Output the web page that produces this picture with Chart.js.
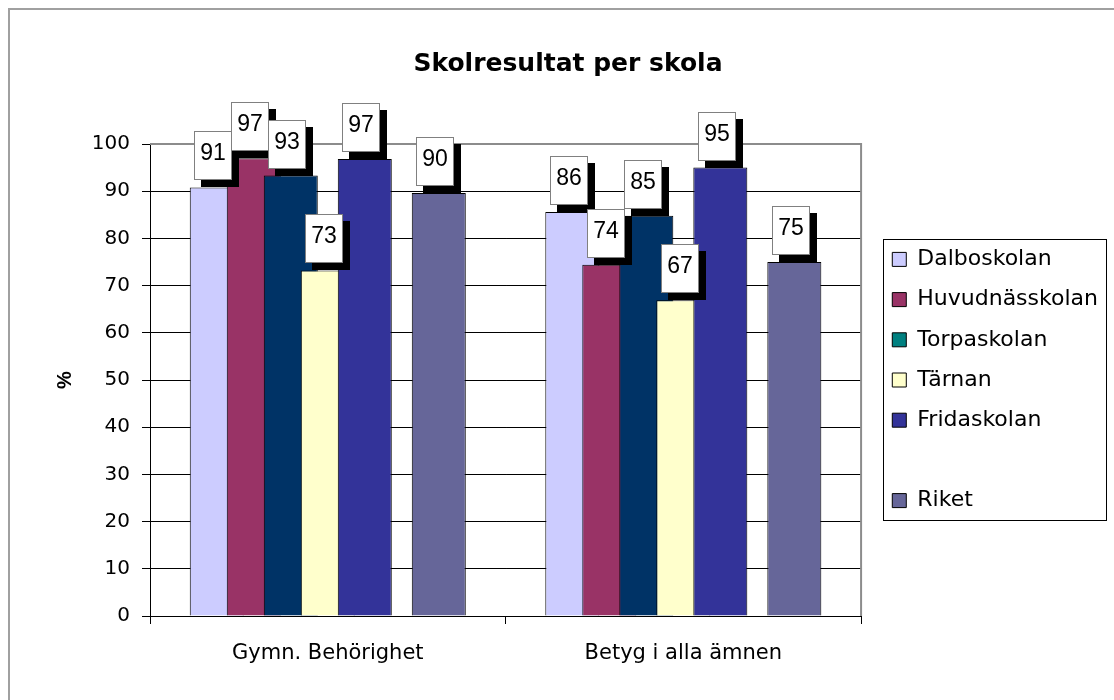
<!DOCTYPE html>
<html>
<head>
<meta charset="utf-8">
<script src="https://cdn.jsdelivr.net/npm/chart.js@4.4.1/dist/chart.umd.min.js"></script>
<style>
  html, body { margin: 0; padding: 0; background: #fff; }
  #wrap { width: 1114px; height: 700px; }
</style>
</head>
<body>
<div id="wrap"><canvas id="chart" width="1114" height="700"></canvas></div>
<script>
// chart data
const categories = ['Gymn. Behörighet', 'Betyg i alla ämnen'];
const schools = ['Dalboskolan', 'Huvudnässkolan', 'Torpaskolan', 'Tärnan', 'Fridaskolan', '', 'Riket'];
const dalboskolan = [90.8, 85.6];
const huvudnasskolan = [97.0, 74.4];
const torpaskolan = [93.3, 84.8];
const tarnan = [73.2, 66.9];
const fridaskolan = [96.8, 95.0];
const blank = [null, null];
const riket = [89.6, 75.0];
const yMin = 0;
const yMax = 100;
const yStep = 10;

//colours
const barColors = ['#ccccff', '#993366', '#003366', '#ffffcc', '#333399', 'rgba(0,0,0,0)', '#666699'];
const legendColors = ['#ccccff', '#993366', '#008080', '#ffffcc', '#333399', 'rgba(0,0,0,0)', '#666699'];

const seriesValues = [dalboskolan, huvudnasskolan, torpaskolan, tarnan, fridaskolan, blank, riket];

const datasets = schools.map((name, i) => ({
  label: name,
  data: seriesValues[i],
  backgroundColor: barColors[i],
  borderColor: name ? '#000000' : 'rgba(0,0,0,0)',
  borderWidth: name ? 1 : 0,
}));

const legendFont = 22;
const legendPad = 18.2;

//frame round the whole picture
const framePlugin = {
  id: 'frame',
  beforeDraw(chart) {
    const { ctx, width, height } = chart;
    ctx.save();
    ctx.fillStyle = '#ffffff';
    ctx.fillRect(0, 0, width, height);
    ctx.strokeStyle = '#a0a0a0';
    ctx.lineWidth = 2;
    ctx.beginPath();
    ctx.moveTo(9, height);
    ctx.lineTo(9, 9);
    ctx.lineTo(width, 9);
    ctx.stroke();
    ctx.restore();
  },
  afterLayout(chart) {
    // move legend a bit right and centre it on the plot, like the original
    const lg = chart.legend;
    const a = chart.chartArea;
    const dy = (a.top + a.bottom) / 2 - (lg.top + lg.bottom) / 2;
    lg.left += 13;
    lg.right += 13;
    lg.top += dy;
    lg.bottom += dy;
  },
  afterDraw(chart) {
    // border round the legend
    const lg = chart.legend;
    const p = legendPad;
    const itemH = legendFont;
    const n = lg.legendItems.length;
    const colH = n * (itemH + p);
    const firstTop = (lg.top + p + lg.bottom - colH) / 2;
    const firstMid = firstTop + itemH / 2;
    const lastMid = firstMid + (n - 1) * (itemH + p);
    const left = Math.round(lg.left + p - 9);
    const top = Math.round(firstMid - 20);
    const bottom = Math.round(lastMid + 19);
    const { ctx } = chart;
    ctx.save();
    ctx.strokeStyle = '#000000';
    ctx.lineWidth = 1;
    ctx.strokeRect(left + 0.5, top + 0.5, 1106 - left, bottom - top);
    ctx.restore();
  },
};

//bars drawn left to right so the later bar lies on top, then the value boxes
const barPlugin = {
  id: 'bars',
  beforeDatasetsDraw(chart) {
    const { ctx, chartArea: a } = chart;
    ctx.save();
    ctx.strokeStyle = '#8c8c8c';
    ctx.lineWidth = 2;
    ctx.beginPath();
    ctx.moveTo(a.left, a.top);
    ctx.lineTo(a.right, a.top);
    ctx.lineTo(a.right, a.bottom);
    ctx.stroke();
    ctx.restore();

    ctx.save();
    ctx.beginPath();
    ctx.rect(a.left, a.top - 2, a.right - a.left, a.bottom - a.top + 2);
    ctx.clip();
    chart.getSortedVisibleDatasetMetas().forEach((meta) => meta.controller.draw());
    ctx.restore();

    ctx.save();
    ctx.font = '23px "Liberation Sans", Arial, sans-serif';
    ctx.textAlign = 'center';
    ctx.textBaseline = 'middle';
    chart.getSortedVisibleDatasetMetas().forEach((meta) => {
      if (!chart.data.datasets[meta.index].label) return;
      meta.data.forEach((bar, j) => {
        const v = chart.data.datasets[meta.index].data[j];
        if (v === null) return;
        const bx = Math.round(bar.x - 22.5);
        const by = Math.round(bar.y - 56);
        ctx.fillStyle = '#000000';
        ctx.fillRect(bx + 7, by + 7, 38, 49);
        ctx.fillStyle = '#ffffff';
        ctx.fillRect(bx, by, 38, 49);
        ctx.strokeStyle = '#808080';
        ctx.lineWidth = 1;
        ctx.strokeRect(bx + 0.5, by + 0.5, 37, 48);
        ctx.fillStyle = '#000000';
        ctx.fillText(String(Math.round(v)), bx + 19, by + 23);
      });
    });
    ctx.restore();
    return false;
  },
};

const ctx = document.querySelector('#chart');

new Chart(ctx, {
  type: 'bar',
  data: {
    labels: categories,
    datasets: datasets,
  },
  plugins: [framePlugin, barPlugin],
  options: {
    responsive: false,
    animation: false,
    events: [],
    layout: {
      padding: { left: 41, right: 19, top: 0, bottom: 0 },
    },
    datasets: {
      bar: {
        categoryPercentage: 259 / 355.5,
        barPercentage: 54 / 37,
      },
    },
    scales: {
      x: {
        grid: {
          display: true,
          drawOnChartArea: false,
          color: '#000000',
          tickLength: 8,
        },
        border: { color: '#000000', width: 1 },
        ticks: {
          color: '#000000',
          padding: 17,
          font: { family: '"DejaVu Sans"', size: 21 },
        },
        afterFit(scale) {
          scale.height = 84;
        },
      },
      y: {
        min: yMin,
        max: yMax,
        ticks: {
          stepSize: yStep,
          color: '#000000',
          padding: 12,
          font: { family: '"DejaVu Sans"', size: 20 },
        },
        grid: {
          color: '#000000',
          tickLength: 8,
        },
        border: { color: '#000000', width: 1 },
        title: {
          display: true,
          text: '%',
          color: '#000000',
          padding: { top: 14, bottom: 0 },
          font: { family: '"Liberation Sans", Arial, sans-serif', size: 20, weight: 'bold', lineHeight: 1 },
        },
        afterFit(scale) {
          scale.width = 109;
        },
      },
    },
    plugins: {
      title: {
        display: true,
        text: 'Skolresultat per skola',
        color: '#000000',
        padding: { top: 49, bottom: 65 },
        font: { family: '"DejaVu Sans"', size: 25, weight: 'bold', lineHeight: 1.2 },
      },
      legend: {
        position: 'right',
        align: 'center',
        labels: {
          color: '#000000',
          boxWidth: 14,
          boxHeight: 14,
          padding: legendPad,
          font: { family: '"DejaVu Sans"', size: legendFont },
          generateLabels: (chart) =>
            Chart.defaults.plugins.legend.labels.generateLabels(chart).map((item, i) => ({
              ...item,
              fillStyle: legendColors[i],
            })),
        },
      },
      tooltip: { enabled: false },
    },
  },
});
</script>
</body>
</html>
